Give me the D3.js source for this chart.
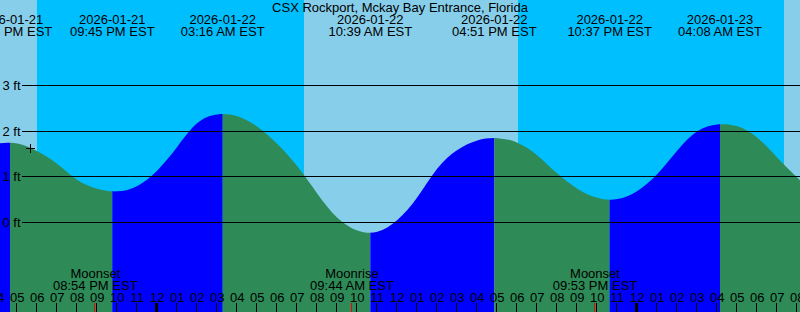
<!DOCTYPE html>
<html>
<head>
<meta charset="utf-8">
<script src="https://cdn.jsdelivr.net/npm/d3@7"></script>
<style>
  body { margin: 0; background: #fff; }
  svg { display: block; }
  text { font-family: "Liberation Sans", Arial, sans-serif; font-size: 13px; fill: #000; }
</style>
</head>
<body>
<svg id="svg1" width="800" height="312"></svg>
<script>
'use strict'
// chart data
const stationName = "CSX Rockport, Mckay Bay Entrance, Florida";
const tideTimes = ["2026-01-21 16:38", "2026-01-21 21:45", "2026-01-22 03:16", "2026-01-22 10:39",
    "2026-01-22 16:51", "2026-01-22 22:37", "2026-01-23 04:08"];
const tideKinds = ["high", "low", "high", "low", "high", "low", "high"];
// hourly levels (ft) from 2026-01-21 15:00
const hourlyStart = "2026-01-21 15:00";
const hourlyHeights = [1.62, 1.73, 1.73, 1.56, 1.28, 0.93, 0.74, 0.68, 0.80, 1.14, 1.66, 2.18,
    2.37, 2.33, 2.10, 1.72, 1.23, 0.63, 0.10, -0.18, -0.21, 0.05, 0.55,
    1.18, 1.59, 1.80, 1.85, 1.75, 1.47, 1.07, 0.74, 0.54, 0.51, 0.69,
    1.06, 1.58, 2.00, 2.15, 2.11, 1.86, 1.42, 0.98, 0.58];
const sunTimes = ["2026-01-21 17:58", "2026-01-22 07:20", "2026-01-22 18:01", "2026-01-23 07:20"];
const sunKinds = ["set", "rise", "set", "rise"];
const moonTimes = ["2026-01-21 20:54", "2026-01-22 09:44", "2026-01-22 21:53"];
const moonLabels = ["Moonset", "Moonrise", "Moonset"];
const nowTime = "2026-01-21 17:38";
const nowHeight = 1.63;
const levelTicks = [0, 1, 2, 3];
const startTime = "2026-01-21 16:08";
const endTime = "2026-01-23 08:08";

const parse = d3.timeParse("%Y-%m-%d %H:%M");
const width = 800, height = 312;
const svg = d3.select("#svg1");

let x = d3.scaleTime().domain([parse(startTime), parse(endTime)]).range([0, width]);
let y = d3.scaleLinear().domain([0, 3]).range([222.3, 85.8]);

// day / night background
let sunDates = sunTimes.map(parse);
let bounds = [x.domain()[0]].concat(sunDates, [x.domain()[1]]);
for (let i = 0; i < bounds.length - 1; i++) {
    // before a sunset it is day, before a sunrise it is night
    let isDay = i < sunKinds.length ? sunKinds[i] === "set" : sunKinds[i - 1] === "rise";
    svg.append("rect")
        .attr("x", x(bounds[i]))
        .attr("y", 0)
        .attr("width", x(bounds[i + 1]) - x(bounds[i]))
        .attr("height", height)
        .attr("fill", isDay ? "#87ceeb" : "#00bfff");
}

// tide curve from the hourly readings
let pts = hourlyHeights.map((h, i) => ({ t: d3.timeHour.offset(parse(hourlyStart), i), h: h }));

let area = d3.area()
    .curve(d3.curveNatural)
    .x(d => x(d.t))
    .y0(height)
    .y1(d => y(d.h));

let defs = svg.append("defs");
let tideDates = tideTimes.map(parse);
let segs = [d3.timeHour.offset(x.domain()[0], -2)].concat(tideDates, [d3.timeHour.offset(x.domain()[1], 2)]);
for (let i = 0; i < segs.length - 1; i++) {
    // rising toward a high = flood (blue), falling = ebb (green)
    let rising = i < tideKinds.length ? tideKinds[i] === "high" : tideKinds[i - 1] === "low";
    defs.append("clipPath").attr("id", "seg" + i)
        .append("rect")
        .attr("x", x(segs[i]))
        .attr("y", 0)
        .attr("width", x(segs[i + 1]) - x(segs[i]))
        .attr("height", height);
    svg.append("path")
        .datum(pts)
        .attr("clip-path", "url(#seg" + i + ")")
        .attr("d", area)
        .attr("fill", rising ? "#0000ff" : "#2e8b57");
}

// level lines and labels
levelTicks.forEach(v => {
    let yy = Math.floor(y(v)) + 0.5;
    svg.append("line")
        .attr("x1", 22).attr("x2", width)
        .attr("y1", yy).attr("y2", yy)
        .attr("stroke", "#000").attr("stroke-width", 1);
    svg.append("text")
        .attr("x", 2.5)
        .attr("y", yy + 4.8)
        .text(v + " ft");
});

// current time mark
let cx = Math.round(x(parse(nowTime))) + 0.5, cy = Math.round(y(nowHeight)) + 0.5;
svg.append("path")
    .attr("d", `M${cx - 4.5},${cy}H${cx + 4.5}M${cx},${cy - 4.5}V${cy + 4.5}`)
    .attr("stroke", "#000").attr("stroke-width", 1);

// title
svg.append("text")
    .attr("x", width / 2).attr("y", 12)
    .attr("text-anchor", "middle")
    .text(stationName);

// high / low labels
let fmtDate = d3.timeFormat("%Y-%m-%d"), fmtTime = d3.timeFormat("%I:%M %p EST");
tideDates.forEach(d => {
    let g = svg.append("g").attr("text-anchor", "middle");
    g.append("text").attr("x", x(d)).attr("y", 24).text(fmtDate(d));
    g.append("text").attr("x", x(d)).attr("y", 36).text(fmtTime(d));
});

// moon labels
moonTimes.map(parse).forEach((d, i) => {
    let g = svg.append("g").attr("text-anchor", "middle");
    g.append("text").attr("x", x(d)).attr("y", 278).text(moonLabels[i]);
    g.append("text").attr("x", x(d)).attr("y", 290).text(fmtTime(d));
});

// hour axis
let hours = d3.timeHour.range(d3.timeHour.offset(x.domain()[0], -1), d3.timeHour.offset(x.domain()[1], 1));
let fmtHour = d3.timeFormat("%I");
svg.append("g").attr("text-anchor", "middle")
    .selectAll("text")
    .data(hours)
    .enter().append("text")
    .attr("x", d => x(d))
    .attr("y", 302)
    .text(d => fmtHour(d));

svg.append("g")
    .selectAll("rect")
    .data(hours)
    .enter().append("rect")
    .attr("x", d => d.getHours() === 0 ? Math.round(x(d)) - 2 : Math.round(x(d)) - 1)
    .attr("y", 303)
    .attr("width", d => d.getHours() === 0 ? 3 : 1)
    .attr("height", 9)
    .attr("fill", "#000");

svg.append("g")
    .selectAll("rect")
    .data(moonTimes.map(parse))
    .enter().append("rect")
    .attr("x", d => Math.round(x(d)) - 1)
    .attr("y", 303)
    .attr("width", 1)
    .attr("height", 9)
    .attr("fill", "#ff0000");
</script>
</body>
</html>
